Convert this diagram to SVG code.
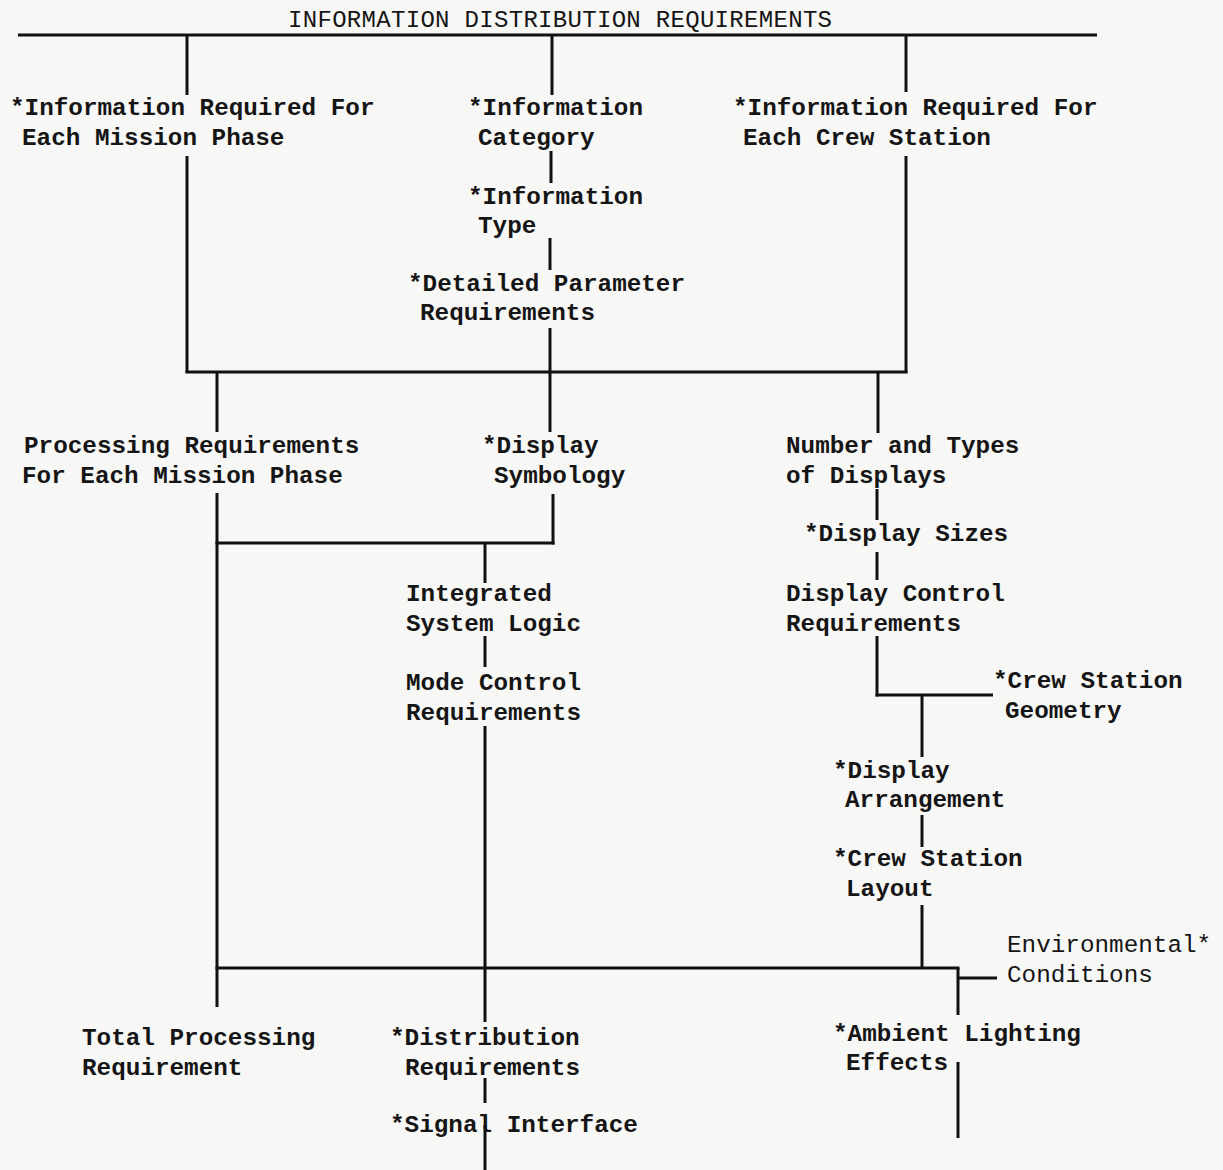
<svg xmlns="http://www.w3.org/2000/svg" width="1223" height="1170" viewBox="0 0 1223 1170">
<style>
.bg{fill:#f7f7f5}
.t{font-family:"Liberation Mono","Courier New",monospace;font-size:24.3px;font-weight:bold;fill:#151515}
.title{font-family:"Liberation Mono","Courier New",monospace;font-size:24px;fill:#151515}
.c line{stroke:#111;stroke-width:3;stroke-linecap:butt}
</style>
<rect class="bg" x="0" y="0" width="1223" height="1170"/>
<g id="title"><text class="title" x="288" y="27" textLength="544">INFORMATION DISTRIBUTION REQUIREMENTS</text></g>
<g id="n-info-mission"><text class="t" x="10" y="115">*Information Required For</text><text class="t" x="22" y="145">Each Mission Phase</text></g>
<g id="n-info-category"><text class="t" x="468" y="115">*Information</text><text class="t" x="478" y="145">Category</text></g>
<g id="n-info-type"><text class="t" x="468" y="204">*Information</text><text class="t" x="478" y="233">Type</text></g>
<g id="n-detailed"><text class="t" x="408" y="291">*Detailed Parameter</text><text class="t" x="420" y="320">Requirements</text></g>
<g id="n-info-crew"><text class="t" x="733" y="115">*Information Required For</text><text class="t" x="743" y="145">Each Crew Station</text></g>
<g id="n-processing"><text class="t" x="24" y="453">Processing Requirements</text><text class="t" x="22" y="483">For Each Mission Phase</text></g>
<g id="n-symbology"><text class="t" x="482" y="453">*Display</text><text class="t" x="494" y="483">Symbology</text></g>
<g id="n-num-displays"><text class="t" x="786" y="453">Number and Types</text><text class="t" x="786" y="483">of Displays</text></g>
<g id="n-sizes"><text class="t" x="804" y="541">*Display Sizes</text></g>
<g id="n-integrated"><text class="t" x="406" y="601">Integrated</text><text class="t" x="406" y="631">System Logic</text></g>
<g id="n-display-control"><text class="t" x="786" y="601">Display Control</text><text class="t" x="786" y="631">Requirements</text></g>
<g id="n-crew-geometry"><text class="t" x="993" y="688">*Crew Station</text><text class="t" x="1005" y="718">Geometry</text></g>
<g id="n-mode"><text class="t" x="406" y="690">Mode Control</text><text class="t" x="406" y="720">Requirements</text></g>
<g id="n-arrangement"><text class="t" x="833" y="778">*Display</text><text class="t" x="845" y="807">Arrangement</text></g>
<g id="n-layout"><text class="t" x="833" y="866">*Crew Station</text><text class="t" x="846" y="896">Layout</text></g>
<g id="n-environment"><text class="t" x="1007" y="952" style="font-weight:normal">Environmental*</text><text class="t" x="1007" y="982" style="font-weight:normal">Conditions</text></g>
<g id="n-total"><text class="t" x="82" y="1045">Total Processing</text><text class="t" x="82" y="1075">Requirement</text></g>
<g id="n-distribution"><text class="t" x="390" y="1045">*Distribution</text><text class="t" x="405" y="1075">Requirements</text></g>
<g id="n-ambient"><text class="t" x="833" y="1041">*Ambient Lighting</text><text class="t" x="846" y="1070">Effects</text></g>
<g id="n-signal"><text class="t" x="390" y="1132">*Signal Interface</text></g>
<g id="connectors" class="c">
<line x1="18" y1="35" x2="1097" y2="35"/>
<line x1="187" y1="35" x2="187" y2="95"/>
<line x1="187" y1="156" x2="187" y2="373"/>
<line x1="552" y1="35" x2="552" y2="95"/>
<line x1="551" y1="151" x2="551" y2="183"/>
<line x1="550" y1="238" x2="550" y2="270"/>
<line x1="550" y1="328" x2="550" y2="432"/>
<line x1="906" y1="35" x2="906" y2="92"/>
<line x1="906" y1="156" x2="906" y2="373"/>
<line x1="185.5" y1="372" x2="907.5" y2="372"/>
<line x1="217" y1="372" x2="217" y2="432"/>
<line x1="878" y1="372" x2="878" y2="433"/>
<line x1="217" y1="493" x2="217" y2="1007"/>
<line x1="553" y1="494" x2="553" y2="544.5"/>
<line x1="215.5" y1="543" x2="554.5" y2="543"/>
<line x1="485" y1="543" x2="485" y2="583"/>
<line x1="485" y1="636" x2="485" y2="667"/>
<line x1="485" y1="726" x2="485" y2="1022"/>
<line x1="877" y1="489" x2="877" y2="520"/>
<line x1="877" y1="552" x2="877" y2="580"/>
<line x1="877" y1="636" x2="877" y2="696.5"/>
<line x1="875.5" y1="695" x2="993" y2="695"/>
<line x1="922" y1="695" x2="922" y2="757"/>
<line x1="922" y1="815" x2="922" y2="847"/>
<line x1="922" y1="905" x2="922" y2="968"/>
<line x1="215.5" y1="968" x2="959.5" y2="968"/>
<line x1="958" y1="968" x2="958" y2="1015"/>
<line x1="958" y1="978" x2="997" y2="978"/>
<line x1="958" y1="1062" x2="958" y2="1138"/>
<line x1="485" y1="1078" x2="485" y2="1103"/>
<line x1="485" y1="1125" x2="485" y2="1170"/>
</g>
</svg>
